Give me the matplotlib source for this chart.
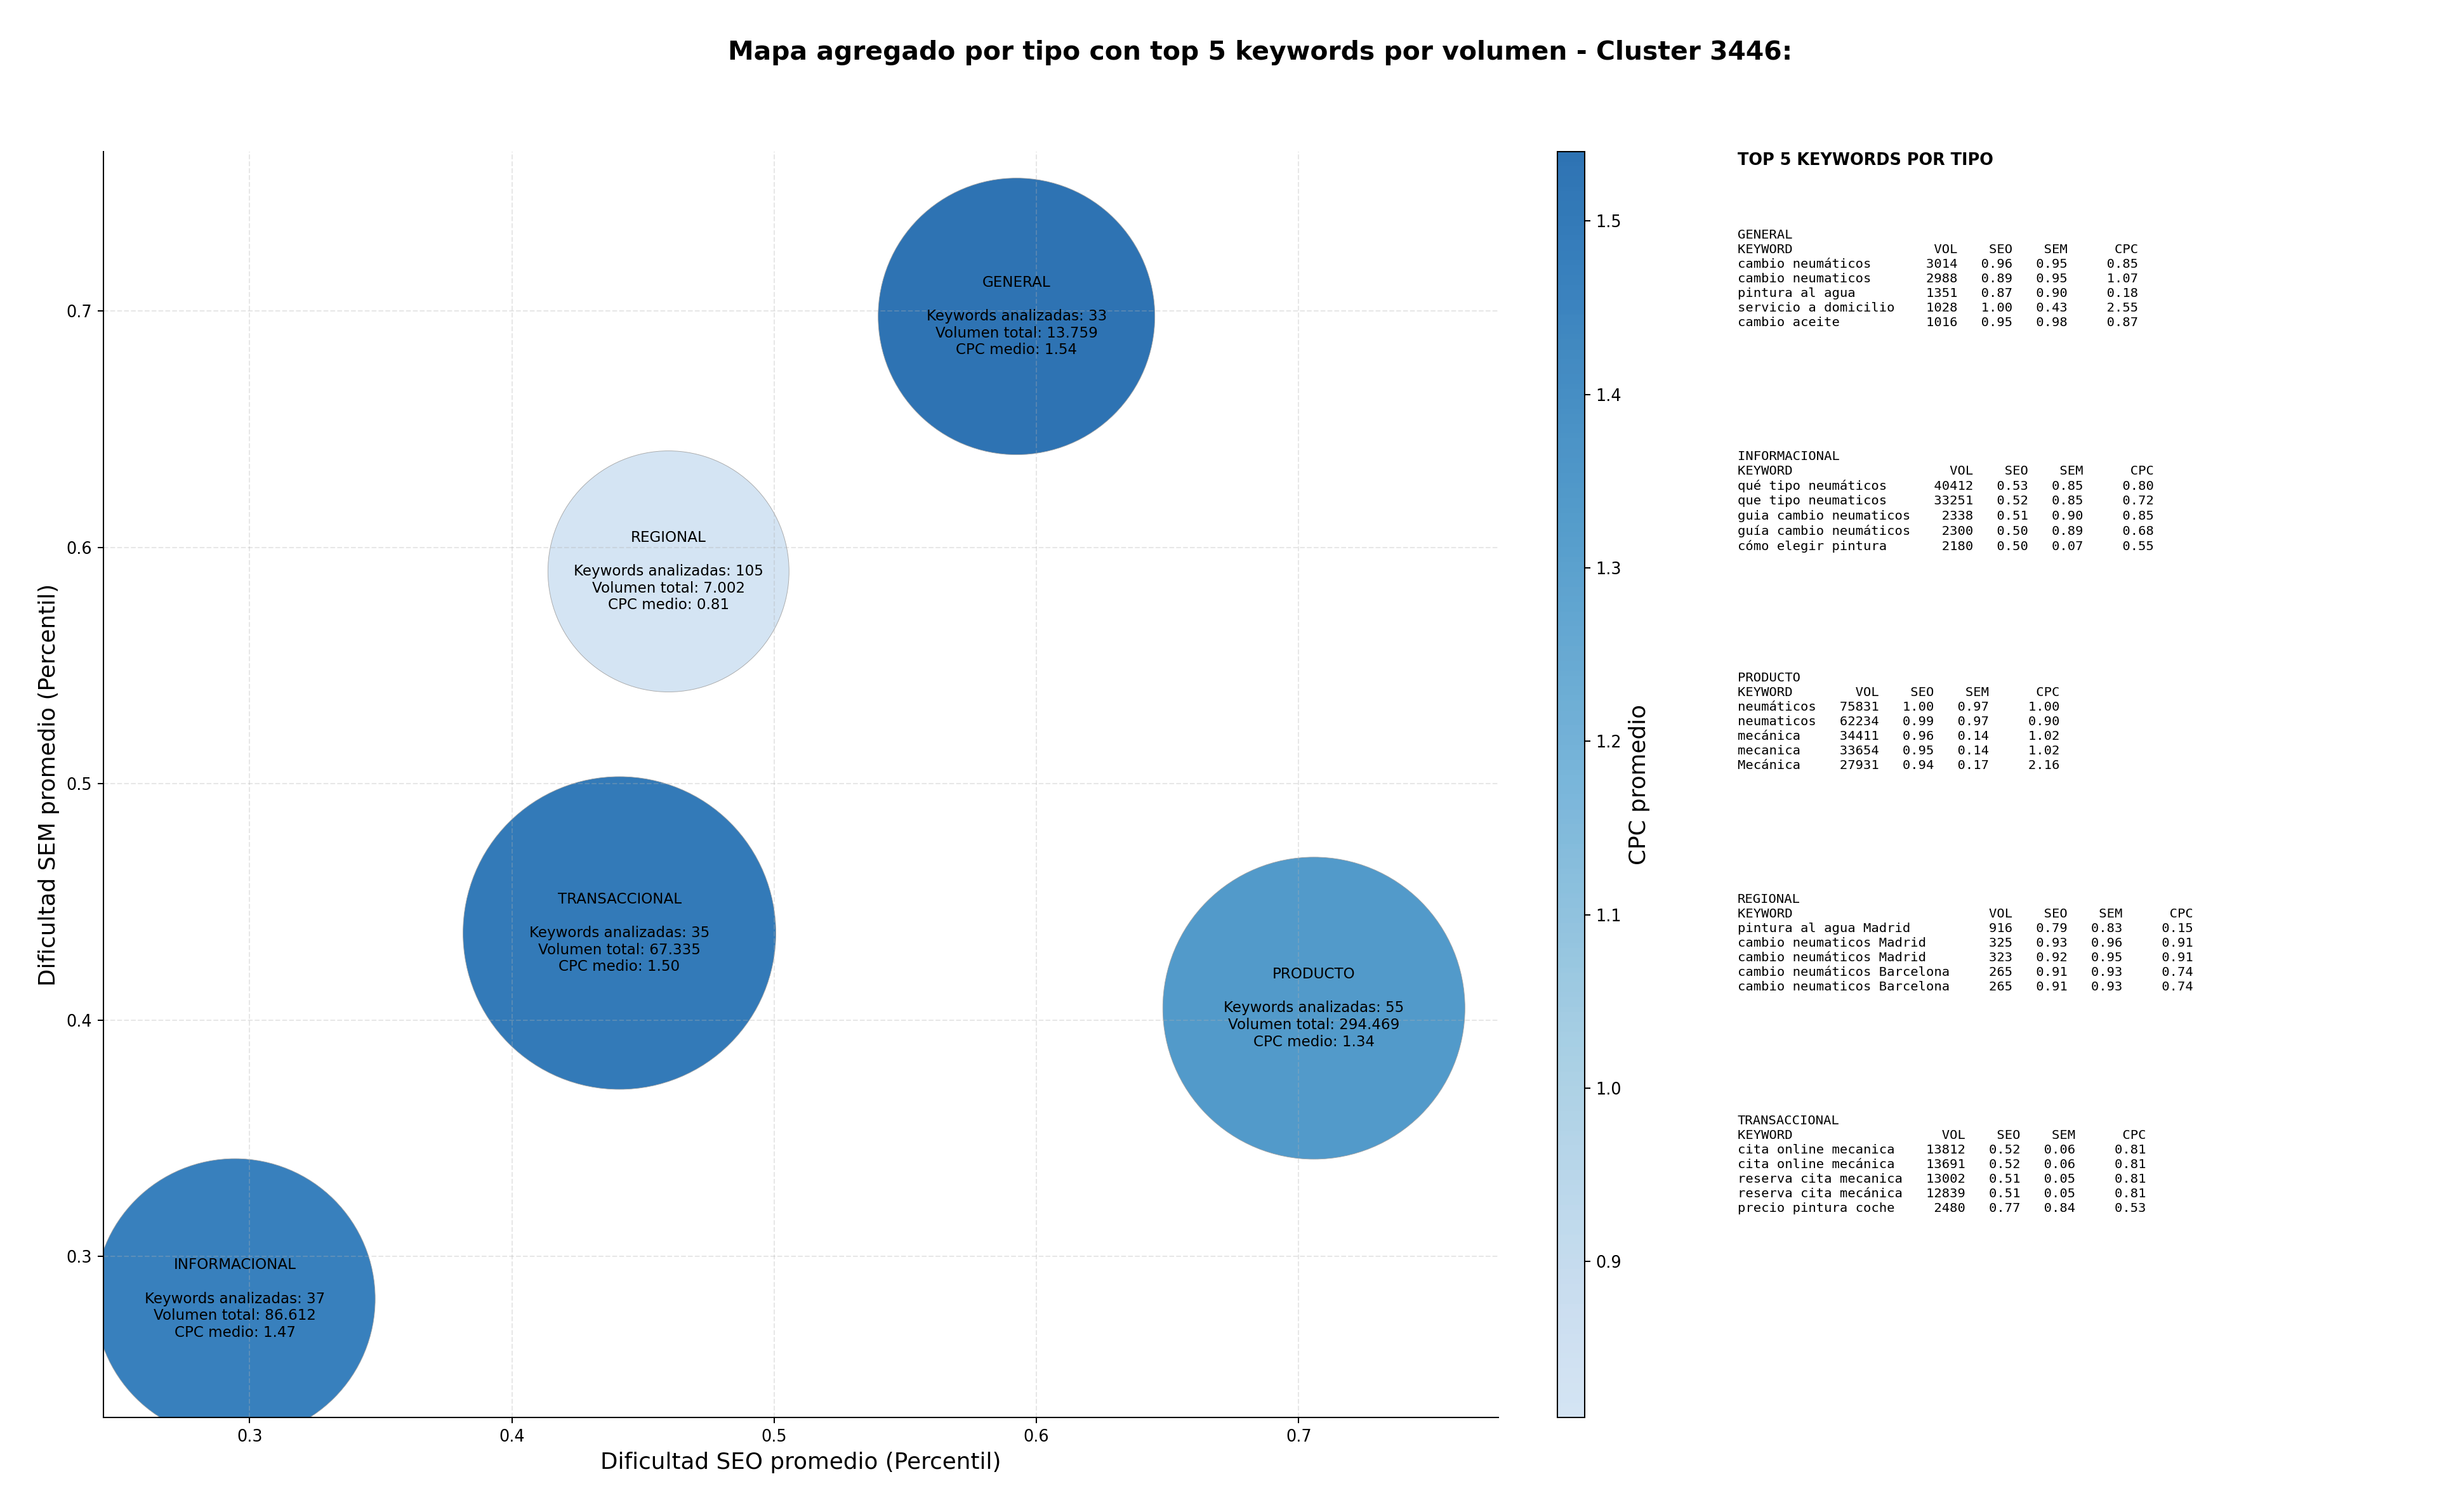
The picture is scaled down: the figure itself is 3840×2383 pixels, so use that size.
import numpy as np
import matplotlib
matplotlib.use("Agg")
import matplotlib.pyplot as plt
from matplotlib.colors import LinearSegmentedColormap

# datos agregados por tipo
tipos = ["GENERAL", "REGIONAL", "TRANSACCIONAL", "PRODUCTO", "INFORMACIONAL"]
seo_medio = [0.5924, 0.4597, 0.4410, 0.7058, 0.2944]
sem_medio = [0.6977, 0.5898, 0.4368, 0.4050, 0.2820]
n_keywords = [33, 105, 35, 55, 37]
volumen_total = [13759, 7002, 67335, 294469, 86612]
cpc_medio = [1.54, 0.81, 1.50, 1.34, 1.47]
# area de cada burbuja (pt^2), estimada de la imagen
area_burbuja = [29100, 22100, 37200, 34700, 29900]

# top 5 keywords por tipo
orden_panel = ["GENERAL", "INFORMACIONAL", "PRODUCTO", "REGIONAL", "TRANSACCIONAL"]
top_kw = {
    "GENERAL": ["cambio neumáticos", "cambio neumaticos", "pintura al agua",
                "servicio a domicilio", "cambio aceite"],
    "INFORMACIONAL": ["qué tipo neumáticos", "que tipo neumaticos", "guia cambio neumaticos",
                      "guía cambio neumáticos", "cómo elegir pintura"],
    "PRODUCTO": ["neumáticos", "neumaticos", "mecánica", "mecanica", "Mecánica"],
    "REGIONAL": ["pintura al agua Madrid", "cambio neumaticos Madrid", "cambio neumáticos Madrid",
                 "cambio neumáticos Barcelona", "cambio neumaticos Barcelona"],
    "TRANSACCIONAL": ["cita online mecanica", "cita online mecánica", "reserva cita mecanica",
                      "reserva cita mecánica", "precio pintura coche"],
}
top_vol = {
    "GENERAL": [3014, 2988, 1351, 1028, 1016],
    "INFORMACIONAL": [40412, 33251, 2338, 2300, 2180],
    "PRODUCTO": [75831, 62234, 34411, 33654, 27931],
    "REGIONAL": [916, 325, 323, 265, 265],
    "TRANSACCIONAL": [13812, 13691, 13002, 12839, 2480],
}
top_seo = {
    "GENERAL": [0.96, 0.89, 0.87, 1.00, 0.95],
    "INFORMACIONAL": [0.53, 0.52, 0.51, 0.50, 0.50],
    "PRODUCTO": [1.00, 0.99, 0.96, 0.95, 0.94],
    "REGIONAL": [0.79, 0.93, 0.92, 0.91, 0.91],
    "TRANSACCIONAL": [0.52, 0.52, 0.51, 0.51, 0.77],
}
top_sem = {
    "GENERAL": [0.95, 0.95, 0.90, 0.43, 0.98],
    "INFORMACIONAL": [0.85, 0.85, 0.90, 0.89, 0.07],
    "PRODUCTO": [0.97, 0.97, 0.14, 0.14, 0.17],
    "REGIONAL": [0.83, 0.96, 0.95, 0.93, 0.93],
    "TRANSACCIONAL": [0.06, 0.06, 0.05, 0.05, 0.84],
}
top_cpc = {
    "GENERAL": [0.85, 1.07, 0.18, 2.55, 0.87],
    "INFORMACIONAL": [0.80, 0.72, 0.85, 0.68, 0.55],
    "PRODUCTO": [1.00, 0.90, 1.02, 1.02, 2.16],
    "REGIONAL": [0.15, 0.91, 0.91, 0.74, 0.74],
    "TRANSACCIONAL": [0.81, 0.81, 0.81, 0.81, 0.53],
}


def fmt_miles(v):
    return f"{v:,}".replace(",", ".")


def tabla_tipo(tipo):
    kws = top_kw[tipo]
    w = max(len(k) for k in kws)
    lineas = [tipo, f"{'KEYWORD':<{w}}{'VOL':>8}{'SEO':>7}{'SEM':>7}{'CPC':>9}"]
    for k, v, s1, s2, c in zip(kws, top_vol[tipo], top_seo[tipo], top_sem[tipo], top_cpc[tipo]):
        lineas.append(f"{k:<{w}}{v:>8}{s1:>7.2f}{s2:>7.2f}{c:>9.2f}")
    return "\n".join(lineas)


cmap = LinearSegmentedColormap.from_list("blues_trunc", plt.cm.Blues(np.linspace(0.2, 0.8, 256)))

fig = plt.figure(figsize=(3840 / 184, 2383 / 184), dpi=184)
ax = fig.add_axes([0.0425, 0.0625, 0.5724, 0.8372])

sc = ax.scatter(seo_medio, sem_medio, s=area_burbuja, c=cpc_medio, cmap=cmap,
                vmin=min(cpc_medio), vmax=max(cpc_medio), alpha=0.9,
                edgecolors="#a0a0a0", linewidths=0.35)

for t, x, y, n, v, c in zip(tipos, seo_medio, sem_medio, n_keywords, volumen_total, cpc_medio):
    ax.text(x, y, f"{t}\n\nKeywords analizadas: {n}\nVolumen total: {fmt_miles(v)}\nCPC medio: {c:.2f}",
            ha="center", va="center", fontsize=9, multialignment="center")

ax.set_xlim(0.2443, 0.7762)
ax.set_ylim(0.2318, 0.7674)
ax.grid(True, linestyle="--", alpha=0.3)
ax.spines["top"].set_visible(False)
ax.spines["right"].set_visible(False)
ax.tick_params(labelsize=10)
ax.set_xlabel("Dificultad SEO promedio (Percentil)", fontsize=14)
ax.set_ylabel("Dificultad SEM promedio (Percentil)", fontsize=14)

cax = fig.add_axes([0.639, 0.0625, 0.0112, 0.8372])
cb = fig.colorbar(sc, cax=cax)
cb.set_label("CPC promedio", fontsize=14)
cb.ax.tick_params(labelsize=10)

fig.text(0.517, 0.965, "Mapa agregado por tipo con top 5 keywords por volumen - Cluster 3446:",
         ha="center", va="center", fontsize=16, fontweight="bold")

# panel de texto con el top 5
fig.text(0.713, 0.894, "TOP 5 KEYWORDS POR TIPO", ha="left", va="center",
         fontsize=10, fontweight="bold")
for i, tipo in enumerate(orden_panel):
    fig.text(0.713, 0.8485 - i * 0.14646, tabla_tipo(tipo), ha="left", va="top",
             fontsize=8, family="DejaVu Sans Mono", linespacing=1.27)

fig.savefig("out.png", dpi=184)
